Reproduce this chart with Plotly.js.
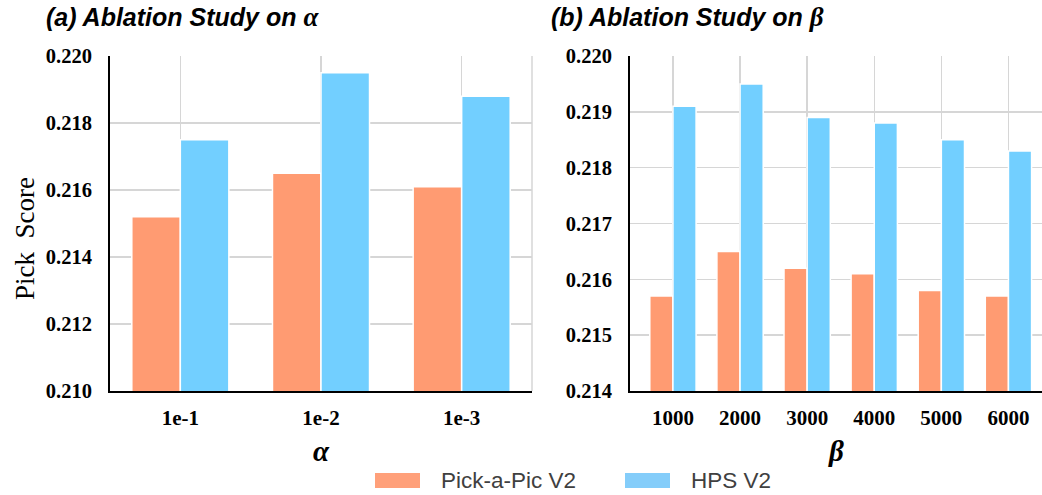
<!DOCTYPE html>
<html>
<head>
<meta charset="utf-8">
<script src="https://cdn.plot.ly/plotly-3.0.1.min.js"></script>
<style>html,body{margin:0;padding:0;background:#fff;}#chart{width:1042px;height:495px;}</style>
</head>
<body>
<div id="chart"></div>
<script>
// ---- data ----
const alphaCats = ["1e-1", "1e-2", "1e-3"];
const alphaPick = [0.2152, 0.2165, 0.2161];
const alphaHPS  = [0.2175, 0.2195, 0.2188];

const betaCats = ["1000", "2000", "3000", "4000", "5000", "6000"];
const betaPick = [0.2157, 0.2165, 0.2162, 0.2161, 0.2158, 0.2157];
const betaHPS  = [0.2191, 0.2195, 0.2189, 0.2188, 0.2185, 0.2183];

const seriesNames = ["Pick-a-Pic V2", "HPS V2"];
const alphaTicks = [0.210, 0.212, 0.214, 0.216, 0.218, 0.220];
const betaTicks = [0.214, 0.215, 0.216, 0.217, 0.218, 0.219, 0.220];

// ---- styles ----
const ORANGE = "#FF9B72";
const BLUE = "#72CFFF";
const W = 1042, H = 495;
const px = v => v / W;
const py = v => 1 - v / H;

const barLine = {color: "#ffffff", width: 1.5};
const traces = [
  {type: "bar", x: alphaCats, y: alphaPick, name: seriesNames[0], marker: {color: ORANGE, line: barLine}, xaxis: "x", yaxis: "y", showlegend: false},
  {type: "bar", x: alphaCats, y: alphaHPS, name: seriesNames[1], marker: {color: BLUE, line: barLine}, xaxis: "x", yaxis: "y", showlegend: false},
  {type: "bar", x: betaCats, y: betaPick, name: seriesNames[0], marker: {color: ORANGE, line: barLine}, xaxis: "x2", yaxis: "y2", showlegend: false},
  {type: "bar", x: betaCats, y: betaHPS, name: seriesNames[1], marker: {color: BLUE, line: barLine}, xaxis: "x2", yaxis: "y2", showlegend: false}
];

const SERIF = "Liberation Serif, Times New Roman, serif";
const SANS = "Liberation Sans, Arial, sans-serif";
const yTickFont = {family: SERIF, size: 20.5, color: "#000", weight: "bold"};
const xTickFont = {family: SERIF, size: 21, color: "#000", weight: "bold"};
const GRID = "#d6d6d6";

const xBase = {
  type: "category", showgrid: true, gridcolor: GRID, gridwidth: 1.5,
  showline: true, linecolor: "#000", linewidth: 2, ticks: "", ticklabelstandoff: 7,
  tickfont: xTickFont, automargin: false, zeroline: false, fixedrange: true
};
const yBase = {
  showgrid: true, gridcolor: GRID, gridwidth: 1.5,
  showline: true, linecolor: "#000", linewidth: 2, ticks: "", ticklabelstandoff: 12,
  tickfont: yTickFont, automargin: false, zeroline: false, fixedrange: true,
  domain: [py(391), py(56)]
};

const layout = {
  width: W, height: H,
  margin: {l: 0, r: 0, t: 0, b: 0, pad: 0},
  paper_bgcolor: "#fff", plot_bgcolor: "#fff",
  barmode: "group", bargap: 0.31, bargroupgap: 0.0,
  showlegend: false,
  xaxis: Object.assign({}, xBase, {domain: [px(110), px(532)], range: [-0.5, 2.5], anchor: "y"}),
  yaxis: Object.assign({}, yBase, {range: [0.210, 0.220], tickvals: alphaTicks, ticktext: alphaTicks.map(v => v.toFixed(3)), anchor: "x"}),
  xaxis2: Object.assign({}, xBase, {domain: [px(630), 1], range: [-0.64, 5.5], anchor: "y2"}),
  yaxis2: Object.assign({}, yBase, {range: [0.214, 0.220], tickvals: betaTicks, ticktext: betaTicks.map(v => v.toFixed(3)), anchor: "x2"}),
  shapes: [
    {type: "line", xref: "x domain", yref: "y domain", x0: 1, x1: 1, y0: 0, y1: 1, line: {color: GRID, width: 1.5}, layer: "below"},
    {type: "rect", xref: "paper", yref: "paper", x0: px(375), x1: px(420), y0: py(488), y1: py(473), fillcolor: "#FFA07A", line: {width: 0}},
    {type: "rect", xref: "paper", yref: "paper", x0: px(625), x1: px(670), y0: py(488), y1: py(473), fillcolor: "#84CDFA", line: {width: 0}}
  ],
  annotations: [
    {xref: "paper", yref: "paper", x: px(44), y: py(17), xanchor: "left", yanchor: "middle", showarrow: false,
     text: "<b><i>(a) Ablation Study on <span style=\"font-family:'Liberation Serif';font-size:27px\">α</span></i></b>",
     font: {family: SANS, size: 25, color: "#000"}},
    {xref: "paper", yref: "paper", x: px(549), y: py(17), xanchor: "left", yanchor: "middle", showarrow: false,
     text: "<b><i>(b) Ablation Study on <span style=\"font-family:'Liberation Serif';font-size:27px\">β</span></i></b>",
     font: {family: SANS, size: 25, color: "#000"}},
    {xref: "paper", yref: "paper", x: px(25), y: py(239), xanchor: "center", yanchor: "middle", showarrow: false, textangle: -90,
     text: "Pick&nbsp;&nbsp;Score", font: {family: SERIF, size: 27, color: "#000"}},
    {xref: "paper", yref: "paper", x: px(321), y: py(451), xanchor: "center", yanchor: "middle", showarrow: false,
     text: "<b><i>α</i></b>", font: {family: SERIF, size: 29, color: "#000"}},
    {xref: "paper", yref: "paper", x: px(836), y: py(451), xanchor: "center", yanchor: "middle", showarrow: false,
     text: "<b><i>β</i></b>", font: {family: SERIF, size: 29, color: "#000"}},
    {xref: "paper", yref: "paper", x: px(439), y: py(480), xanchor: "left", yanchor: "middle", showarrow: false,
     text: seriesNames[0], font: {family: SANS, size: 22.5, color: "#404040"}},
    {xref: "paper", yref: "paper", x: px(689), y: py(480), xanchor: "left", yanchor: "middle", showarrow: false,
     text: seriesNames[1], font: {family: SANS, size: 22.5, color: "#404040"}}
  ]
};

Plotly.newPlot("chart", traces, layout, {staticPlot: true, displayModeBar: false});
</script>
</body>
</html>
